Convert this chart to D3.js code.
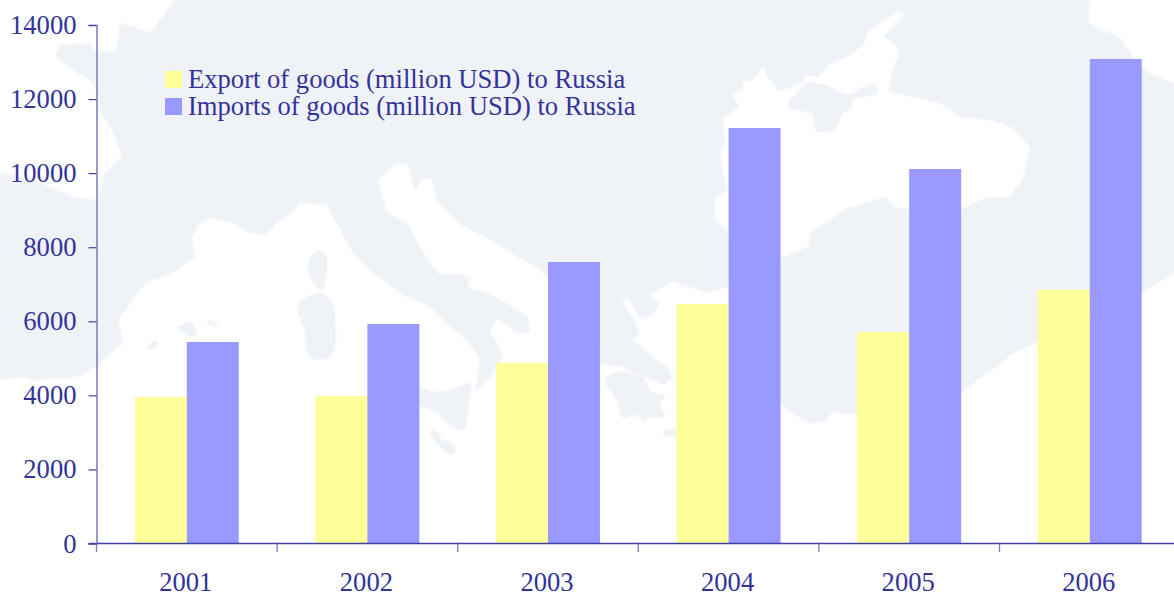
<!DOCTYPE html>
<html>
<head>
<meta charset="utf-8">
<script src="https://cdn.jsdelivr.net/npm/d3@7"></script>
<style>
  html, body { margin: 0; padding: 0; background: #fff; overflow: hidden; }
  svg { display: block; }
  text { font-family: "Liberation Serif", serif; fill: #333399; font-size: 26.6px; }
</style>
</head>
<body>
<svg id="chart" width="1174" height="595"></svg>
<script>
// Chart values
const years = ["2001", "2002", "2003", "2004", "2005", "2006"];
const exportsToRussia = [3956, 3983, 4874, 6467, 5711, 6853];
const importsFromRussia = [5441, 5927, 7601, 11219, 10112, 13082];
const seriesNames = [
  "Export of goods (million USD) to Russia",
  "Imports of goods (million USD) to Russia"
];
const seriesColors = ["#ffff99", "#9999ff"];
const yTicks = [0, 2000, 4000, 6000, 8000, 10000, 12000, 14000];

// Decorative backdrop: seas are cut out of a pale land fill, islands go back on top.
// Sea outlines run past the canvas edge so the softening does not tint the border.
const seaOutlines = [
  [[-10,-10],[178,-10],[175,0],[166,13],[150,33],[135,27],[120,23],[118,40],[115,52],[93,50],[90,43],[60,45],[55,57],[70,68],[90,80],[97,92],[100,110],[113,133],[122,157],[105,173],[97,200],[73,197],[33,180],[0,172],[-10,170]],
  [[1090,-10],[1090,0],[1088,23],[1103,30],[1120,37],[1133,57],[1147,72],[1174,83],[1184,87],[1184,-10]],
  [[723,117],[740,107],[732,95],[743,90],[742,83],[755,78],[763,67],[768,78],[778,91],[790,88],[802,82],[807,75],[818,78],[832,63],[847,57],[863,45],[870,30],[897,12],[904,13],[898,22],[883,37],[893,43],[900,53],[893,68],[888,92],[913,97],[940,103],[960,117],[990,120],[1013,128],[1030,148],[1023,177],[1010,197],[987,197],[960,210],[913,208],[897,208],[885,197],[843,210],[830,220],[810,233],[808,247],[783,257],[753,263],[733,240],[728,230],[715,220],[715,197],[727,190],[722,167],[720,153],[725,145]],
  [[-10,382],[0,380],[20,377],[33,380],[77,377],[97,367],[107,357],[123,343],[118,320],[133,300],[147,282],[173,273],[195,257],[192,237],[200,223],[213,218],[237,225],[250,233],[267,235],[277,222],[293,213],[300,203],[327,205],[340,230],[353,253],[373,273],[403,295],[430,307],[450,327],[467,340],[480,360],[478,372],[475,392],[490,377],[503,357],[497,343],[490,333],[497,318],[517,333],[530,333],[528,317],[510,305],[487,293],[467,287],[472,278],[460,273],[440,275],[420,248],[408,223],[387,213],[378,180],[397,163],[408,165],[415,192],[422,178],[432,180],[437,200],[460,225],[490,240],[517,257],[538,268],[570,300],[599,345],[599,363],[623,367],[645,377],[665,385],[672,378],[668,368],[655,358],[642,347],[633,340],[640,333],[633,318],[622,300],[627,298],[640,318],[650,316],[660,305],[650,295],[673,282],[690,287],[707,293],[727,287],[760,300],[760,400],[780,405],[793,413],[807,423],[827,422],[832,412],[857,415],[900,410],[961,393],[981,378],[996,367],[1014,353],[1036,343],[1100,310],[1142,293],[1174,273],[1184,268],[1184,605],[-10,605]]
];
const islandOutlines = [
  [[788,107],[813,115],[815,130],[828,133],[838,125],[843,113],[852,108],[852,100],[877,93],[875,83],[863,87],[850,95],[833,88],[817,83],[807,83]],
  [[605,380],[620,372],[643,378],[652,392],[665,395],[660,405],[665,417],[647,418],[646,424],[635,415],[623,418],[617,400]],
  [[663,432],[677,429],[677,436],[665,436]],
  [[298,305],[320,293],[332,303],[335,317],[333,353],[318,360],[307,353],[305,333]],
  [[310,257],[318,250],[325,253],[327,267],[322,290],[313,283],[308,267]],
  [[410,385],[437,392],[463,385],[470,383],[468,410],[465,428],[453,428],[437,413],[410,400]],
  [[431,430],[438,432],[442,440],[450,442],[456,450],[453,455],[445,452],[438,445],[431,436]],
  [[177,328],[190,322],[197,333],[190,337],[183,332]],
  [[207,320],[220,325],[217,327],[208,324]],
  [[147,347],[157,340],[158,343],[150,350]]
];

const width = 1174, height = 595;
const axisX = 96.5, zeroY = 543.5, topY = 25, groupStep = 180.6;

const svg = d3.select("#chart");

// Backdrop map
const defs = svg.append("defs");
defs.append("filter").attr("id", "soft")
  .attr("filterUnits", "userSpaceOnUse")
  .attr("x", -20).attr("y", -20).attr("width", width + 40).attr("height", height + 40)
  .append("feGaussianBlur").attr("stdDeviation", 0.9);

const outline = d3.line().curve(d3.curveCatmullRomClosed.alpha(0.5));
const map = svg.append("g").attr("filter", "url(#soft)");
map.append("rect").attr("x", -20).attr("y", -20).attr("width", width + 40).attr("height", height + 40).attr("fill", "#eff2f7");
map.selectAll("path.sea").data(seaOutlines).join("path").attr("class", "sea")
  .attr("d", d => "M" + d.join("L") + "Z").attr("fill", "#fff");
map.selectAll("path.island").data(islandOutlines).join("path").attr("class", "island")
  .attr("d", outline).attr("fill", "#eff2f7");

// Scales
const x = d3.scaleBand().domain(years).range([axisX, axisX + groupStep * years.length]);
const inner = d3.scaleBand().domain([0, 1]).range([0, x.bandwidth()]).paddingInner(0).paddingOuter(0.739);
const y = d3.scaleLinear().domain([0, 14000]).range([zeroY, topY]);

// Bars
[exportsToRussia, importsFromRussia].forEach((values, s) => {
  svg.append("g").selectAll("rect").data(values).join("rect")
    .attr("x", (d, i) => x(years[i]) + inner(s))
    .attr("width", inner.bandwidth())
    .attr("y", d => y(d))
    .attr("height", d => y(0) - y(d))
    .attr("fill", seriesColors[s]);
});

// Value axis
const yAxis = svg.append("g").attr("transform", `translate(${axisX},0)`)
  .call(d3.axisLeft(y).tickValues(yTicks).tickSize(8).tickPadding(12).tickFormat(d3.format("d")));
yAxis.select(".domain").attr("stroke", "#8080c4").attr("stroke-width", 1.6);
yAxis.selectAll(".tick line").attr("stroke", "#4040a4").attr("stroke-width", 1.2);
yAxis.selectAll("text").attr("dy", "0.32em");
yAxis.attr("font-size", null).attr("font-family", null);

// Category axis: ticks sit on group boundaries, labels centred beneath each group
const xAxis = svg.append("g");
xAxis.append("line").attr("x1", axisX - 8).attr("x2", width).attr("y1", zeroY).attr("y2", zeroY)
  .attr("stroke", "#4040a4").attr("stroke-width", 1.3);
xAxis.selectAll("line.tick").data(years).join("line").attr("class", "tick")
  .attr("x1", d => x(d)).attr("x2", d => x(d)).attr("y1", zeroY).attr("y2", zeroY + 8.5)
  .attr("stroke", "#7a7abf").attr("stroke-width", 1.3);
xAxis.selectAll("text").data(years).join("text")
  .attr("x", d => x(d) + x.bandwidth() / 2 - 1).attr("y", 591)
  .attr("text-anchor", "middle").text(d => d);

// Legend
const legend = svg.append("g");
const legendRow = d3.scaleOrdinal().domain(seriesNames).range([88, 115]);
legend.selectAll("rect").data(seriesNames).join("rect")
  .attr("x", 165).attr("width", 17)
  .attr("y", d => legendRow(d) - 17).attr("height", 17)
  .attr("fill", (d, i) => seriesColors[i]);
legend.selectAll("text").data(seriesNames).join("text")
  .attr("x", 188).attr("y", d => legendRow(d)).text(d => d);
</script>
</body>
</html>
